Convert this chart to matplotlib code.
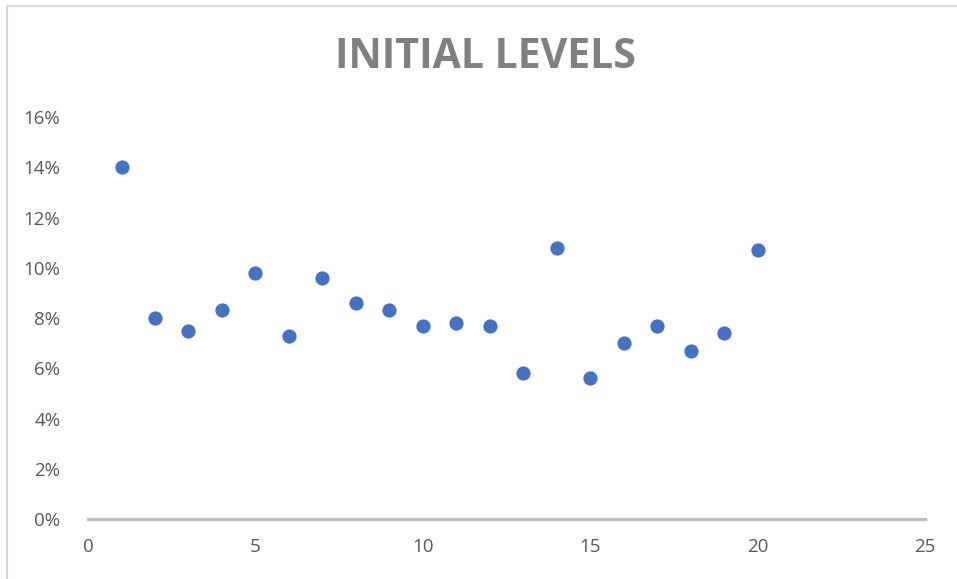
import matplotlib
matplotlib.use("Agg")
import matplotlib.pyplot as plt
from matplotlib.ticker import PercentFormatter
from matplotlib.lines import Line2D

x_vals = [1, 2, 3, 4, 5, 6, 7, 8, 9, 10, 11, 12, 13, 14, 15, 16, 17, 18, 19, 20]
levels = [14.0, 8.0, 7.5, 8.3, 9.8, 7.3, 9.6, 8.6, 8.3, 7.7,
          7.8, 7.7, 5.8, 10.8, 5.6, 7.0, 7.7, 6.7, 7.4, 10.7]
x_ticks = [0, 5, 10, 15, 20, 25]
y_ticks = [0, 2, 4, 6, 8, 10, 12, 14, 16]

plt.rcParams['font.family'] = ['Open Sans', 'DejaVu Sans']

fig = plt.figure(figsize=(9.57, 5.79), dpi=100)
ax = fig.add_axes([0.092, 0.1036, 0.8746, 0.6943])

ax.scatter(x_vals, levels, s=105, color='#4472C4', zorder=3, linewidths=0)

ax.set_xlim(0, 25)
ax.set_ylim(0, 16)
ax.set_xticks(x_ticks)
ax.set_yticks(y_ticks)
ax.yaxis.set_major_formatter(PercentFormatter(decimals=0))

for s in ['top', 'right', 'left']:
    ax.spines[s].set_visible(False)
ax.spines['bottom'].set_color('#BFBFBF')
ax.spines['bottom'].set_linewidth(2.4)

ax.tick_params(axis='both', length=0, labelsize=13.5, colors='#595959')
ax.tick_params(axis='y', pad=20)
ax.tick_params(axis='x', pad=14)

fig.text(485 / 957, 1 - 57 / 579, 'INITIAL LEVELS', ha='center', va='center',
         fontsize=29.5, fontweight='bold', color='#808080')

# chart frame (top and left edges visible)
fig.add_artist(Line2D([6.5 / 957, 6.5 / 957], [0, 1 - 5.5 / 579],
                      transform=fig.transFigure, color='#D9D9D9', lw=1.5))
fig.add_artist(Line2D([6.5 / 957, 1], [1 - 5.5 / 579, 1 - 5.5 / 579],
                      transform=fig.transFigure, color='#D9D9D9', lw=1.5))

fig.savefig('out.png', dpi=100)
